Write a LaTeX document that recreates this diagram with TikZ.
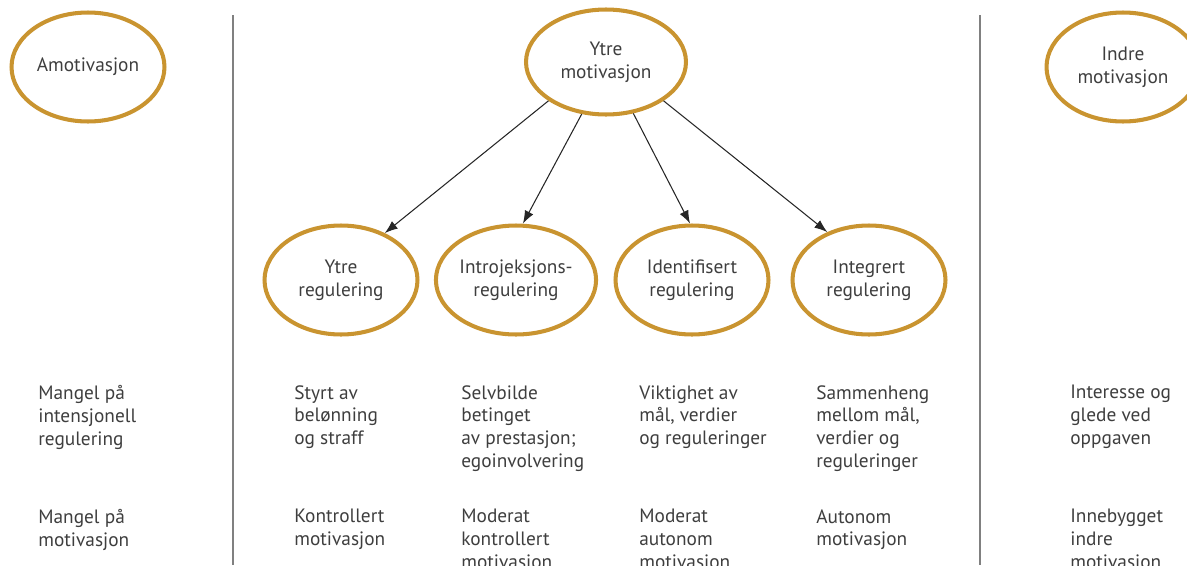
\documentclass[tikz,border=0pt]{standalone}
\usepackage{fontspec}
\setmainfont{PT Sans}
\usepackage{tikz}
\usetikzlibrary{arrows,arrows.meta,shapes,positioning}
\definecolor{gull}{RGB}{201,148,48}
\definecolor{tekstgraa}{RGB}{62,62,62}

\begin{document}
\begin{tikzpicture}[x=0.02cm, y=-0.02cm,
	every node/.style={font=\fontsize{11}{13}\selectfont, text=tekstgraa},
	motiv/.style={ellipse, draw=gull, line width=2.3pt, minimum width=3.06cm, minimum height=2.18cm, inner sep=0pt, align=center},
	tekst/.style={anchor=north west, inner sep=0pt, align=left},
	skille/.style={draw=gray, line width=0.8pt},
	pil/.style={-{Latex[length=2.6mm,width=1.9mm]}, line width=0.6pt, black!85}]
		\useasboundingbox (0,0) rectangle (1187,565);
% \draw[very thin,color=gray] (0,0) grid[xstep=50,ystep=50] (1187,565);
\draw[skille] (233,15) -- (233,565);
\draw[skille] (980,15) -- (980,565);
\node[motiv] (amot) at (88, 67) {Amotivasjon};
\node[motiv, minimum width=3.2cm, minimum height=2.1cm] (ytremot) at (606, 62) {Ytre\\motivasjon};
\node[motiv] (indremot) at (1123, 67) {Indre\\motivasjon};
\node[motiv] (ytrereg) at (341, 280) {Ytre\\regulering};
\node[motiv] (introreg) at (516, 280) {Introjeksjons-\\regulering};
\node[motiv] (identreg) at (692, 280) {Identifisert\\regulering};
\node[motiv] (integreg) at (869, 280) {Integrert\\regulering};
\draw[pil] (ytremot.214) -- (ytrereg.47);
\draw[pil] (ytremot.245) -- (introreg.83);
\draw[pil] (ytremot.298) -- (identreg.92);
\draw[pil] (ytremot.326) -- (integreg.131);
\node[tekst] (amot1) at (38, 385) {Mangel på\\intensjonell\\regulering};
\node[tekst] (amot2) at (38, 509) {Mangel på\\motivasjon};
\node[tekst] (ytre1) at (294, 385) {Styrt av\\belønning\\og straff};
\node[tekst] (ytre2) at (294, 509) {Kontrollert\\motivasjon};
\node[tekst] (intro1) at (461, 385) {Selvbilde\\betinget\\av prestasjon;\\egoinvolvering};
\node[tekst] (intro2) at (461, 509) {Moderat\\kontrollert\\motivasjon};
\node[tekst] (ident1) at (639, 385) {Viktighet av\\mål, verdier\\og reguleringer};
\node[tekst] (ident2) at (639, 509) {Moderat\\autonom\\motivasjon};
\node[tekst] (integ1) at (816, 385) {Sammenheng\\mellom mål,\\verdier og\\reguleringer};
\node[tekst] (integ2) at (816, 509) {Autonom\\motivasjon};
\node[tekst] (indre1) at (1070, 385) {Interesse og\\glede ved\\oppgaven};
\node[tekst] (indre2) at (1070, 509) {Innebygget\\indre\\motivasjon};
\end{tikzpicture}
\end{document}
